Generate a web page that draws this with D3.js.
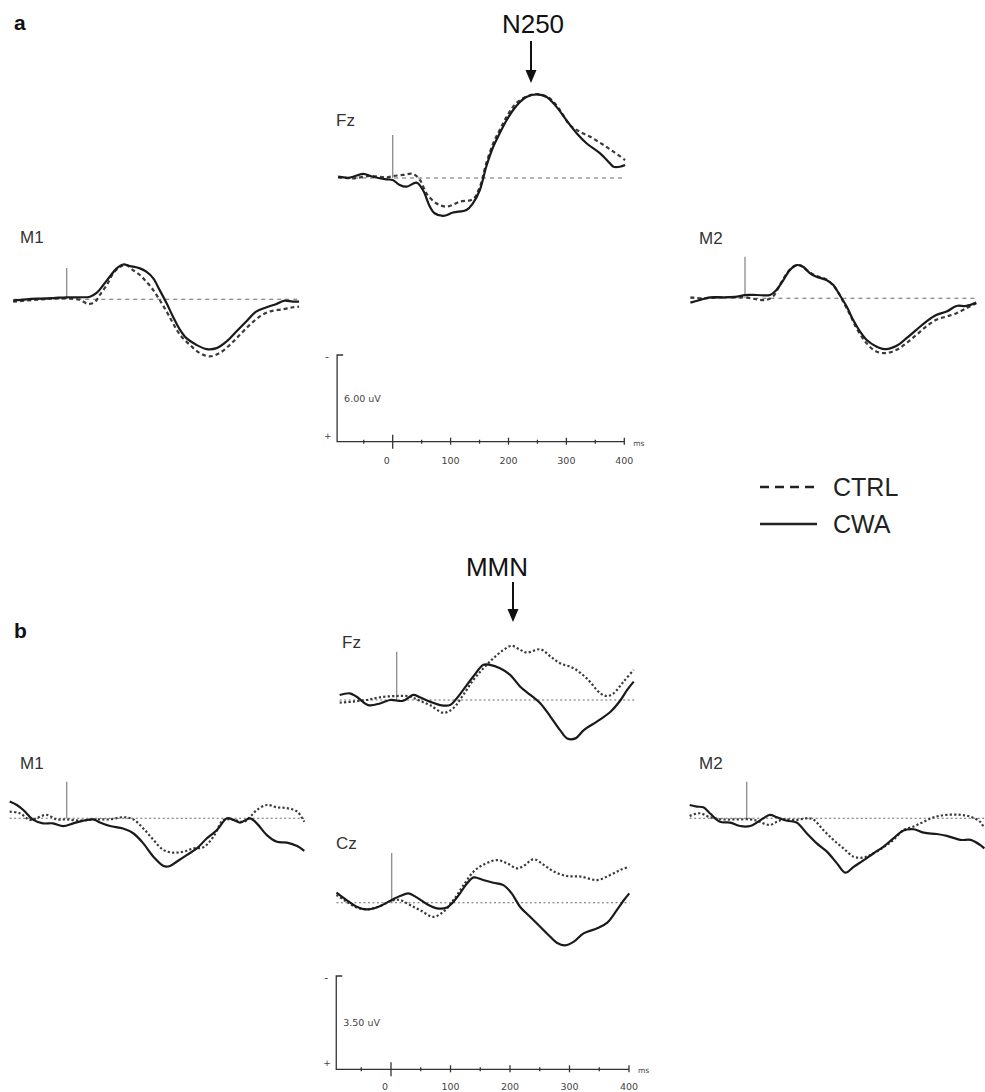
<!DOCTYPE html>
<html>
<head>
<meta charset="utf-8">
<script src="https://cdn.jsdelivr.net/npm/d3@7"></script>
<style>
  html, body { margin: 0; padding: 0; background: #fff; }
  svg { display: block; }
</style>
</head>
<body>
<svg id="chart" width="985" height="1092"></svg>
<script>
// ---------------- DATA (time in ms, amplitude in µV; negative plotted up) ----------------
const groups = ["CTRL", "CWA"];
const tickLabels = ["0", "100", "200", "300", "400"];
const majorTicks = [100, 200, 300, 400];
const minorTicks = [-50, 50, 150, 250, 350];
const scaleA = "6.00 uV";
const scaleB = "3.50 uV";

// Panel a – N250
const aFzCWA = [[-94,-0.09],[-74,-0.02],[-51,-0.28],[-34,-0.09],[-11,0.09],[0,0.14],[12,0.48],[24,0.6],[41,0.32],[52,0.83],[64,1.98],[72,2.44],[87,2.62],[104,2.39],[127,2.21],[138,1.75],[150,0.83],[161,-0.78],[173,-2.16],[184,-3.08],[196,-4.0],[207,-4.69],[219,-5.26],[230,-5.61],[248,-5.79],[265,-5.61],[282,-4.92],[299,-4.0],[317,-3.08],[334,-2.39],[357,-1.70],[374,-1.01],[380,-0.78],[391,-0.78],[400,-0.9]];
const aFzCTRL = [[-94,-0.05],[-68,0.02],[-40,-0.14],[-11,-0.05],[1,-0.14],[18,-0.21],[35,-0.28],[47,0.14],[58,1.06],[75,1.75],[93,1.98],[116,1.63],[138,1.47],[150,0.6],[161,-1.01],[173,-2.39],[184,-3.31],[196,-4.23],[207,-4.92],[219,-5.38],[236,-5.72],[253,-5.79],[271,-5.49],[288,-4.69],[305,-3.66],[322,-3.2],[340,-2.85],[363,-2.28],[380,-1.82],[400,-1.24]];
const aM1CWA = [[-92,0.09],[-69,0],[-46,-0.05],[-23,-0.09],[0,-0.14],[23,-0.14],[40,-0.18],[52,-0.46],[63,-0.99],[74,-1.56],[86,-2.14],[97,-2.41],[109,-2.30],[126,-2.14],[137,-1.91],[149,-1.45],[160,-0.64],[172,0.28],[183,1.20],[195,2.11],[206,2.69],[223,3.15],[241,3.45],[258,3.38],[275,2.92],[292,2.23],[309,1.54],[326,0.85],[344,0.55],[361,0.32],[375,0.09],[389,0.16],[400,0.16]];
const aM1CTRL = [[-92,0.16],[-57,0.05],[-23,-0.05],[0,-0.07],[23,0.05],[37,0.32],[49,0.16],[57,-0.30],[69,-0.99],[80,-1.79],[92,-2.25],[103,-2.37],[114,-2.02],[126,-1.68],[137,-1.22],[149,-0.64],[160,0.05],[172,0.85],[183,1.66],[195,2.46],[212,3.15],[229,3.72],[246,3.95],[263,3.72],[281,3.15],[298,2.46],[315,1.77],[332,1.20],[349,0.85],[372,0.69],[389,0.55],[400,0.51]];
const aM2CWA = [[-94,0.30],[-77,0.11],[-60,-0.07],[-37,-0.07],[-14,-0.11],[0,-0.23],[20,-0.23],[43,-0.23],[54,-0.57],[66,-1.26],[77,-1.95],[89,-2.30],[100,-2.18],[112,-1.72],[123,-1.49],[140,-1.26],[152,-0.92],[163,-0.23],[175,0.57],[186,1.49],[198,2.30],[209,2.87],[226,3.33],[243,3.52],[261,3.29],[278,2.76],[295,2.18],[312,1.61],[329,1.15],[347,0.92],[364,0.53],[381,0.53],[398,0.30]];
const aM2CTRL = [[-94,-0.07],[-72,0],[-37,-0.07],[-14,-0.07],[0,-0.07],[20,0.07],[37,0.11],[49,-0.16],[60,-0.92],[72,-1.72],[83,-2.18],[94,-2.30],[106,-1.95],[123,-1.54],[140,-1.31],[158,-0.57],[169,0.23],[181,1.15],[192,2.07],[209,3.10],[226,3.68],[243,3.79],[261,3.56],[278,3.10],[295,2.53],[312,1.95],[329,1.49],[347,1.26],[364,1.03],[381,0.69],[398,0.34]];

// Panel b – MMN
const bFzCWA = [[-96,-0.19],[-79,-0.25],[-68,-0.13],[-48,0.19],[-28,0.13],[-11,0],[11,0.03],[28,-0.19],[39,-0.10],[56,0.06],[73,0.19],[90,0.19],[101,-0.06],[112,-0.38],[129,-0.88],[146,-1.32],[157,-1.32],[174,-1.19],[191,-0.94],[208,-0.50],[225,-0.19],[242,0.13],[259,0.63],[275,1.13],[287,1.44],[301,1.44],[315,1.13],[337,0.81],[360,0.44],[377,0],[388,-0.38],[399,-0.69]];
const bFzCTRL = [[-96,0.10],[-73,0.06],[-51,0],[-28,-0.10],[0,-0.15],[22,-0.13],[39,0.03],[56,0.19],[79,0.48],[95,0.31],[112,-0.19],[129,-0.75],[146,-1.19],[163,-1.57],[180,-1.88],[194,-2.03],[208,-1.88],[219,-1.78],[242,-1.90],[259,-1.63],[275,-1.38],[298,-1.19],[320,-0.81],[343,-0.25],[354,-0.15],[365,-0.25],[382,-0.69],[399,-1.13]];
const bCzCWA = [[-93,-0.38],[-76,-0.10],[-59,0.15],[-42,0.25],[-22,0.15],[0,-0.10],[14,-0.25],[28,-0.35],[42,-0.20],[59,0.05],[76,0.21],[93,0.18],[104,-0.04],[115,-0.35],[126,-0.70],[138,-0.95],[154,-0.85],[171,-0.75],[188,-0.66],[202,-0.35],[216,0.15],[233,0.53],[250,0.90],[267,1.28],[278,1.50],[292,1.60],[306,1.47],[323,1.15],[346,0.96],[363,0.75],[379,0.28],[391,-0.10],[400,-0.35]];
const bCzCTRL = [[-93,-0.29],[-76,-0.04],[-59,0.18],[-42,0.25],[-22,0.15],[0,-0.08],[14,-0.10],[31,0.09],[48,0.28],[70,0.53],[87,0.34],[104,-0.10],[121,-0.66],[138,-1.17],[154,-1.42],[177,-1.60],[194,-1.48],[211,-1.29],[222,-1.38],[239,-1.63],[256,-1.42],[273,-1.17],[295,-1.00],[318,-0.98],[346,-0.85],[368,-1.04],[385,-1.23],[400,-1.35]];
const bM1CWA = [[-96,-0.63],[-84,-0.50],[-73,-0.31],[-56,0.06],[-40,0.19],[-23,0.19],[-6,0.29],[11,0.19],[28,0.09],[45,0.04],[56,0.16],[73,0.29],[95,0.38],[112,0.56],[129,0.94],[146,1.44],[163,1.79],[174,1.79],[185,1.63],[202,1.38],[219,1.13],[236,0.75],[253,0.44],[270,0],[281,0.06],[292,0.16],[309,0],[320,0.19],[337,0.63],[354,0.88],[371,0.91],[388,1.04],[400,1.22]];
const bM1CTRL = [[-96,-0.25],[-79,-0.19],[-62,0.06],[-51,0],[-34,-0.13],[-17,0.04],[0,0.04],[22,0.09],[39,0.06],[56,0.04],[73,0.04],[95,-0.04],[112,0.04],[129,0.38],[146,0.81],[163,1.19],[180,1.29],[197,1.25],[213,1.13],[230,1.09],[247,0.69],[264,0.06],[281,0.06],[298,0.13],[309,-0.06],[320,-0.31],[337,-0.50],[354,-0.41],[371,-0.38],[388,-0.25],[400,0.13]];
const bM2CWA = [[-96,-0.50],[-84,-0.44],[-73,-0.41],[-62,-0.19],[-45,0.13],[-28,0.16],[-11,0.29],[6,0.29],[17,0.16],[28,0],[39,-0.13],[51,-0.04],[68,0.09],[84,0.16],[101,0.56],[118,0.94],[135,1.25],[152,1.69],[166,2.04],[180,1.82],[197,1.57],[213,1.32],[230,1.07],[247,0.75],[264,0.46],[281,0.41],[298,0.54],[320,0.59],[337,0.66],[360,0.81],[377,0.81],[393,1.00],[400,1.13]];
const bM2CTRL = [[-96,-0.09],[-79,-0.19],[-62,-0.04],[-40,0.04],[-17,0.04],[6,0.04],[17,0.09],[28,0.19],[39,0.25],[51,0.13],[62,0.04],[84,0.06],[101,0],[112,0.04],[129,0.44],[146,0.81],[163,1.13],[180,1.44],[197,1.47],[213,1.32],[230,1.09],[247,0.81],[264,0.44],[281,0.31],[298,0.13],[315,-0.04],[337,-0.13],[360,-0.13],[377,-0.06],[393,0.13],[400,0.38]];

// ---------------- LAYOUT ----------------
const svg = d3.select("#chart");
svg.append("rect").attr("width", 985).attr("height", 1092).attr("fill", "#fff");

const SANS = "'Liberation Sans', Arial, sans-serif";
const styleA = { ctrlDash: "4,3", baseDash: "4,4", pxPerUV: 14.45, k: 0.581 };
const styleB = { ctrlDash: "2.2,2.2", baseDash: "2,2.5", pxPerUV: 26.66, k: 0.594 };

const traces = [
  { label: "Fz", cwa: aFzCWA, ctrl: aFzCTRL, onset: 392.7, base: 178,   stimTop: 135,   lx: 336, ly: 126, st: styleA },
  { label: "M1", cwa: aM1CWA, ctrl: aM1CTRL, onset: 66.7,  base: 299.3, stimTop: 268,   lx: 20,  ly: 243, st: styleA },
  { label: "M2", cwa: aM2CWA, ctrl: aM2CTRL, onset: 745,   base: 298.3, stimTop: 256.7, lx: 699, ly: 244, st: styleA },
  { label: "Fz", cwa: bFzCWA, ctrl: bFzCTRL, onset: 396.7, base: 700,   stimTop: 651.7, lx: 342, ly: 648, st: styleB },
  { label: "Cz", cwa: bCzCWA, ctrl: bCzCTRL, onset: 391.7, base: 902.7, stimTop: 853,   lx: 336, ly: 849, st: styleB },
  { label: "M1", cwa: bM1CWA, ctrl: bM1CTRL, onset: 66.7,  base: 818.3, stimTop: 781.7, lx: 20,  ly: 769, st: styleB },
  { label: "M2", cwa: bM2CWA, ctrl: bM2CTRL, onset: 746.7, base: 818.3, stimTop: 781.7, lx: 699, ly: 769, st: styleB }
];

traces.forEach(p => {
  const x = d3.scaleLinear().domain([0, 400]).range([p.onset, p.onset + 400 * p.st.k]);
  const y = d3.scaleLinear().domain([0, 1]).range([p.base, p.base + p.st.pxPerUV]);
  const g = svg.append("g");
  const t0 = d3.min(p.cwa.concat(p.ctrl), d => d[0]);
  // baseline
  g.append("line")
    .attr("x1", x(t0)).attr("x2", x(400)).attr("y1", y(0)).attr("y2", y(0))
    .attr("stroke", "#6a6a6a").attr("stroke-width", 1.1).attr("stroke-dasharray", p.st.baseDash);
  // stimulus onset marker
  g.append("line")
    .attr("x1", x(0)).attr("x2", x(0)).attr("y1", p.stimTop).attr("y2", y(0))
    .attr("stroke", "#8a8a8a").attr("stroke-width", 1.3);
  const line = d3.line().x(d => x(d[0])).y(d => y(d[1])).curve(d3.curveCatmullRom.alpha(0.5));
  g.append("path").datum(p.ctrl).attr("d", line)
    .attr("fill", "none").attr("stroke", "#3a3a3a").attr("stroke-width", 2.2)
    .attr("stroke-dasharray", p.st.ctrlDash);
  g.append("path").datum(p.cwa).attr("d", line)
    .attr("fill", "none").attr("stroke", "#1a1a1a").attr("stroke-width", 2.2);
  g.append("text").attr("x", p.lx).attr("y", p.ly).text(p.label)
    .attr("font-family", SANS).attr("font-size", 17).attr("fill", "#333");
});

// ---------------- Scale bars ----------------
function scaleBar(cfg) {
  const x = d3.scaleLinear().domain([0, 400]).range([cfg.x0, cfg.x400]);
  const y = d3.scaleLinear().domain([0, cfg.uv]).range([cfg.top, cfg.bottom]);
  const g = svg.append("g").attr("stroke", "#333").attr("fill", "none").attr("stroke-width", 1.3);
  const left = x(cfg.tmin);
  g.append("path").attr("d", `M${left + 6},${y(0)} H${left} V${y(cfg.uv)} H${x(400)}`);
  majorTicks.forEach(t => g.append("line").attr("x1", x(t)).attr("x2", x(t)).attr("y1", y(cfg.uv) - 4).attr("y2", y(cfg.uv) + 3));
  minorTicks.forEach(t => g.append("line").attr("x1", x(t)).attr("x2", x(t)).attr("y1", y(cfg.uv) - 2).attr("y2", y(cfg.uv) + 2));
  g.append("line").attr("x1", x(0)).attr("x2", x(0)).attr("y1", y(cfg.uv) - 7).attr("y2", y(cfg.uv) + 7);
  const tf = "'DejaVu Sans', sans-serif";
  const tg = svg.append("g").attr("font-family", tf).attr("font-size", 9.5).attr("fill", "#444");
  tickLabels.forEach((l, i) => {
    const t = i * 100;
    tg.append("text").attr("x", x(t) - (t === 0 ? 6 : 0)).attr("y", cfg.labelY)
      .attr("text-anchor", "middle").text(l);
  });
  tg.append("text").attr("x", x(400) + 9).attr("y", y(cfg.uv) + 4).attr("font-size", 7.5).text("ms");
  tg.append("text").attr("x", left + 7).attr("y", (y(0) + y(cfg.uv)) / 2 + 3.5).text(cfg.text);
  tg.append("text").attr("x", left - 12).attr("y", y(0) + 5).attr("font-size", 11).text("-");
  tg.append("text").attr("x", left - 13).attr("y", y(cfg.uv) - 3).attr("font-size", 9).text("+");
}
scaleBar({ x0: 392.7, x400: 624.3, tmin: -96, uv: 6, top: 355, bottom: 441.7, labelY: 464, text: scaleA });
scaleBar({ x0: 391, x400: 629, tmin: -92, uv: 3.5, top: 976, bottom: 1069.3, labelY: 1089.5, text: scaleB });

// ---------------- Panel letters, component labels, arrows ----------------
svg.append("text").attr("x", 14).attr("y", 30).text("a")
  .attr("font-family", SANS).attr("font-weight", "bold").attr("font-size", 21).attr("fill", "#111");
svg.append("text").attr("x", 14).attr("y", 638).text("b")
  .attr("font-family", SANS).attr("font-weight", "bold").attr("font-size", 21).attr("fill", "#111");

function arrowLabel(text, tx, ty, ax, a1, a2) {
  svg.append("text").attr("x", tx).attr("y", ty).attr("text-anchor", "middle").text(text)
    .attr("font-family", SANS).attr("font-size", 26).attr("fill", "#111");
  svg.append("line").attr("x1", ax).attr("x2", ax).attr("y1", a1).attr("y2", a2 - 10)
    .attr("stroke", "#111").attr("stroke-width", 2);
  svg.append("path").attr("d", `M${ax - 5.5},${a2 - 13} L${ax + 5.5},${a2 - 13} L${ax},${a2} Z`).attr("fill", "#111");
}
arrowLabel("N250", 533, 33, 531, 41, 83);
arrowLabel("MMN", 497, 576, 513, 582, 622);

// ---------------- Legend ----------------
const legend = svg.append("g");
const legendRows = [
  { name: groups[0], y: 487, dash: "9,6" },
  { name: groups[1], y: 524, dash: null }
];
legendRows.forEach(r => {
  legend.append("line").attr("x1", 760).attr("x2", 817).attr("y1", r.y).attr("y2", r.y)
    .attr("stroke", "#222").attr("stroke-width", 2.5)
    .attr("stroke-dasharray", r.dash);
  legend.append("text").attr("x", 833).attr("y", r.y + 9).text(r.name)
    .attr("font-family", SANS).attr("font-size", 25).attr("fill", "#222");
});
</script>
</body>
</html>
